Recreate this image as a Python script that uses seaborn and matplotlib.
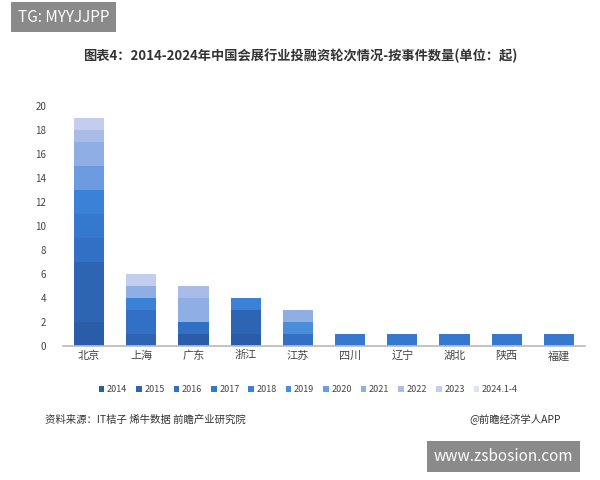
import matplotlib
matplotlib.use("Agg")
import matplotlib.pyplot as plt
import seaborn as sns
import numpy as np
import pandas as pd

sns.set_theme(style="white")
plt.rcParams['font.family'] = ['Noto Sans CJK SC', 'DejaVu Sans']

regions = ["北京", "上海", "广东", "浙江", "江苏", "四川", "辽宁", "湖北", "陕西", "福建"]
years = ["2014", "2015", "2016", "2017", "2018", "2019", "2020", "2021", "2022", "2023", "2024.1-4"]
v2014 = [2, 0, 1, 1, 0, 0, 0, 0, 0, 0]
v2015 = [5, 1, 0, 2, 0, 0, 0, 0, 0, 0]
v2016 = [2, 2, 1, 0, 1, 0, 0, 0, 0, 0]
v2017 = [2, 0, 0, 0, 0, 1, 1, 1, 1, 1]
v2018 = [2, 1, 0, 1, 0, 0, 0, 0, 0, 0]
v2019 = [0, 0, 0, 0, 1, 0, 0, 0, 0, 0]
v2020 = [2, 0, 0, 0, 0, 0, 0, 0, 0, 0]
v2021 = [2, 1, 2, 0, 1, 0, 0, 0, 0, 0]
v2022 = [1, 0, 1, 0, 0, 0, 0, 0, 0, 0]
v2023 = [1, 1, 0, 0, 0, 0, 0, 0, 0, 0]
v2024 = [0, 0, 0, 0, 0, 0, 0, 0, 0, 0]
series = [v2014, v2015, v2016, v2017, v2018, v2019, v2020, v2021, v2022, v2023, v2024]
colors = ["#2a5ca8", "#2d64b4", "#3170c4", "#3579cf", "#3a82d8", "#4a8ddb",
          "#6d9be0", "#8eaee4", "#a9bce8", "#c3cdee", "#dfe4f4"]

fig = plt.figure(figsize=(6, 4.8), dpi=100)
ax = fig.add_axes([0.105, 0.28, 0.87, 0.5])
bottom = np.zeros(len(regions))
for y, vals, c in zip(years, series, colors):
    df = pd.DataFrame({"r": regions, "v": vals})
    sns.barplot(data=df, x="r", y="v", bottom=bottom, color=c, ax=ax, width=0.58,
                label=y, saturation=1, linewidth=0)
    bottom += np.array(vals)
ax.set_ylim(0, 20)
ax.set_yticks(range(0, 21, 2))
ax.set_xlabel(""); ax.set_ylabel("")
ax.tick_params(axis='y', labelsize=7, colors="#444", length=0, pad=12)
ax.tick_params(axis='x', labelsize=8, colors="#444", length=0)
for s in ["top", "right", "left"]:
    ax.spines[s].set_visible(False)
ax.spines["bottom"].set_color("#bbb")
ax.legend(loc="upper center", bbox_to_anchor=(0.47, -0.13), ncol=11, fontsize=6.5,
          frameon=False, handlelength=0.6, handleheight=0.6, columnspacing=1.0,
          handletextpad=0.3, labelcolor="#444")

fig.text(0.5, 0.875, "图表4：2014-2024年中国会展行业投融资轮次情况-按事件数量(单位：起)",
         ha="center", fontsize=9.5, fontweight="bold", color="#333")
fig.text(0.075, 0.12, "资料来源：IT桔子 烯牛数据 前瞻产业研究院", fontsize=7.5, color="#333")
fig.text(0.935, 0.12, "@前瞻经济学人APP", fontsize=7.5, color="#333", ha="right")
fig.text(0.03, 0.955, "TG: MYYJJPP", fontsize=11, color="white",
         bbox=dict(facecolor="#8a8a8a", edgecolor="none", pad=5))
fig.text(0.955, 0.04, "www.zsbosion.com", fontsize=11, color="white", ha="right",
         bbox=dict(facecolor="#8a8a8a", edgecolor="none", pad=5))
fig.savefig("out.png", dpi=100)
